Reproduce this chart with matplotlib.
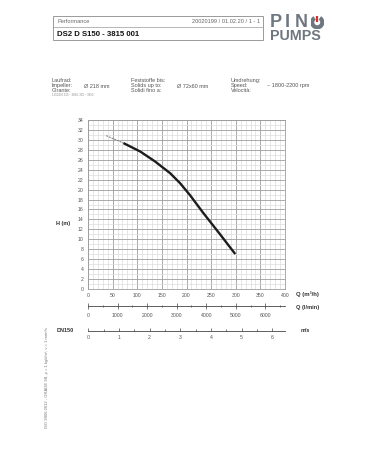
import matplotlib
matplotlib.use("Agg")
import matplotlib.pyplot as plt
from matplotlib.patches import Rectangle, Arc
from matplotlib.lines import Line2D
from matplotlib.ticker import MultipleLocator

plt.rcParams['font.family'] = ['Liberation Sans', 'DejaVu Sans']

# ---- data ----
q_dashed = [37, 72]
h_dashed = [30.9, 29.4]
q_curve = [72, 106, 136, 167, 187, 207, 234, 268, 299]
h_curve = [29.4, 27.7, 25.7, 23.3, 21.3, 18.9, 15.3, 11.0, 7.0]

q_max = 400
h_max = 34
q_ticks = [0, 50, 100, 150, 200, 250, 300, 350, 400]
h_ticks = list(range(0, 35, 2))
lmin_ticks = [0, 1000, 2000, 3000, 4000, 5000, 6000]
ms_ticks = [0, 1, 2, 3, 4, 5, 6]

title = "DS2 D S150 - 3815 001"
header_left = "Performance"
header_right = "20020199 / 01.02.20 / 1 - 1"

W, H = 378, 472
fig = plt.figure(figsize=(W / 100, H / 100), dpi=100)
fig.patch.set_facecolor("white")

def fx(px):
    return px / W

def fy(py):
    return 1 - py / H

tick_col = "#555555"
tfs = 3.7

# ---- header box ----
fig.add_artist(Rectangle((fx(53.3), fy(40)), fx(262.7) - fx(53.3), fy(16) - fy(40),
                         transform=fig.transFigure, fill=False, edgecolor="#9a9a9a", lw=0.7))
fig.add_artist(Line2D([fx(53.3), fx(262.7)], [fy(26.7), fy(26.7)],
                      transform=fig.transFigure, color="#9a9a9a", lw=0.5))
fig.text(fx(57), fy(21.5), header_left, fontsize=4.1, color="#666666", va="center", ha="left")
fig.text(fx(260), fy(21.5), header_right, fontsize=4.1, color="#666666", va="center", ha="right")
fig.text(fx(57), fy(34), title, fontsize=5.6, fontweight="bold", color="#111111", va="center", ha="left")

# ---- logo ----
logo_col = "#6e7680"
for ch, x in zip("PIN", [269.5, 285, 294.5]):
    fig.text(fx(x), fy(22.4), ch, fontsize=13, fontweight="bold", color=logo_col,
             va="center", ha="left")
ax_logo = fig.add_axes([fx(310.5), fy(28.8), fx(324) - fx(310.5), fy(15.8) - fy(28.8)])
ax_logo.set_xlim(-1, 1)
ax_logo.set_ylim(-1, 1)
ax_logo.axis("off")
ax_logo.add_patch(Arc((0, 0), 1.5, 1.55, theta1=120, theta2=420, lw=3.0, color=logo_col))
ax_logo.plot([0, 0], [0.1, 0.95], color="#d6302a", lw=1.6, solid_capstyle="butt")
fig.text(fx(270), fy(36.5), "PUMPS", fontsize=10.3, fontweight="bold", color=logo_col,
         va="center", ha="left")

# ---- info block ----
ifs = 4.0
icol = "#555555"
rows = [80.7, 86.0, 91.0]
col1 = ["Laufrad:", "Impeller:", "Girante:"]
col2 = ["Feststoffe bis:", "Solids up to:", "Solidi fino a:"]
col3 = ["Umdrehung:", "Speed:", "Velocità:"]
for i, y in enumerate(rows):
    fig.text(fx(51.7), fy(y), col1[i], fontsize=ifs, color=icol, va="center")
    fig.text(fx(130.7), fy(y), col2[i], fontsize=ifs, color=icol, va="center")
    fig.text(fx(230.7), fy(y), col3[i], fontsize=ifs, color=icol, va="center")
fig.text(fx(84.3), fy(86), "Ø 218 mm", fontsize=ifs, color=icol, va="center")
fig.text(fx(177.3), fy(86), "Ø 72x60 mm", fontsize=ifs, color=icol, va="center")
fig.text(fx(266.7), fy(86), "~ 1800-2200 rpm", fontsize=ifs, color=icol, va="center")
fig.text(fx(51.7), fy(94.8), "1150433 315 ~ 2684, 305 ~ 3810", fontsize=2.0, color="#888888", va="center")

# ---- main chart ----
L, R, T, B = 88, 285, 120.3, 288.7
ax = fig.add_axes([fx(L), fy(B), fx(R) - fx(L), fy(T) - fy(B)])
ax.set_xlim(0, q_max)
ax.set_ylim(0, h_max)
ax.set_xticks(q_ticks)
ax.set_yticks(h_ticks)
ax.xaxis.set_minor_locator(MultipleLocator(10))
ax.yaxis.set_minor_locator(MultipleLocator(1))
ax.grid(which="minor", color="#dcdcdc", lw=0.5)
ax.grid(which="major", color="#9c9c9c", lw=0.6)
ax.set_axisbelow(True)
for s in ax.spines.values():
    s.set_color("#9c9c9c")
    s.set_linewidth(0.6)
ax.tick_params(which="both", length=0, labelsize=tfs, labelcolor=tick_col, pad=3)
ax.plot(q_dashed, h_dashed, color="#777777", lw=0.7, ls=(0, (2, 1)))
ax.plot(q_curve, h_curve, color="#1c1c1c", lw=1.7, solid_capstyle="butt", solid_joinstyle="round")

fig.text(fx(296), fy(294), "Q (m³/h)", fontsize=4.3, fontweight="bold", color="#333333", va="center")
fig.text(fx(56), fy(223.3), "H (m)", fontsize=4.0, fontweight="bold", color="#333333", va="center")

# ---- l/min axis ----
ax2 = fig.add_axes([fx(L), fy(305.7), fx(R) - fx(L), 0.0001])
ax2.set_xlim(0, q_max * 1000 / 60)
ax2.set_xticks(lmin_ticks)
ax2.xaxis.set_minor_locator(MultipleLocator(500))
ax2.set_yticks([])
for k in ["top", "left", "right"]:
    ax2.spines[k].set_visible(False)
ax2.spines["bottom"].set_color("#444444")
ax2.spines["bottom"].set_linewidth(0.6)
ax2.tick_params(axis="x", which="major", direction="inout", length=4, width=0.5, color="#444444",
                labelsize=tfs, labelcolor=tick_col, pad=3)
ax2.tick_params(axis="x", which="minor", direction="inout", length=2, width=0.5, color="#444444")
ax2.patch.set_alpha(0)
fig.text(fx(296), fy(307), "Q (l/min)", fontsize=4.1, fontweight="bold", color="#333333", va="center")

# ---- m/s axis ----
ax3 = fig.add_axes([fx(L), fy(331), fx(R) - fx(L), 0.0001])
ax3.set_xlim(-0.015, 6.42)
ax3.set_xticks(ms_ticks)
ax3.xaxis.set_minor_locator(MultipleLocator(0.5))
ax3.set_yticks([])
for k in ["top", "left", "right"]:
    ax3.spines[k].set_visible(False)
ax3.spines["bottom"].set_color("#444444")
ax3.spines["bottom"].set_linewidth(0.6)
ax3.tick_params(axis="x", which="major", direction="in", length=2.5, width=0.5, color="#444444",
                labelsize=tfs, labelcolor=tick_col, pad=3)
ax3.tick_params(axis="x", which="minor", direction="in", length=1.5, width=0.5, color="#444444")
ax3.patch.set_alpha(0)
fig.text(fx(300.5), fy(331), "m/s", fontsize=4.0, fontweight="bold", color="#333333", va="center")
fig.text(fx(56.7), fy(331), "DN150", fontsize=4.0, fontweight="bold", color="#333333", va="center")

# ---- vertical norm text ----
fig.text(fx(47), fy(378), "ISO 9906:2012 - GRADE 3B, ρ = 1 kg/dm³, ν = 1 mm²/s",
         fontsize=3.0, color="#777777", rotation=90, va="center", ha="center")

fig.savefig("out.png", dpi=100, facecolor="white")
